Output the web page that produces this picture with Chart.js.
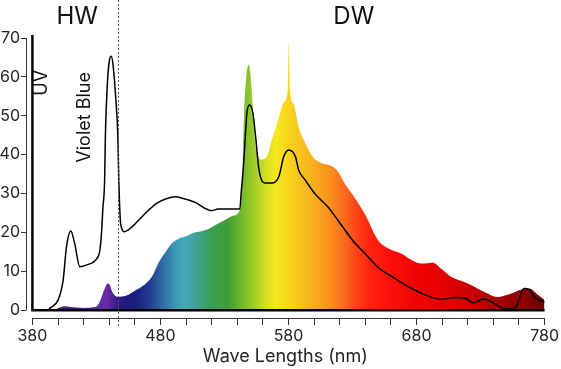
<!DOCTYPE html>
<html>
<head>
<meta charset="utf-8">
<script src="https://cdn.jsdelivr.net/npm/chart.js@4.4.1/dist/chart.umd.min.js"></script>
<style>
  html, body { margin: 0; padding: 0; background: #fff; }
  #wrap { width: 561px; height: 369px; }
</style>
</head>
<body>
<div id="wrap"><canvas id="spectrum" width="561" height="369"></canvas></div>
<script>
'use strict';

// spectrum fill (coloured area)
var fillWavelengths = [380, 396, 400, 405, 410, 420, 428, 431, 433, 435, 437, 439, 440.5, 442, 444, 447, 450, 455, 460, 465, 469, 474, 479, 484, 489, 495, 500, 505, 512, 517, 523, 531, 536, 541, 543, 544, 545, 547, 549, 550.5, 552, 554, 556, 559, 563, 567, 572, 576, 579.5, 580.3, 581, 584, 588, 593, 600, 606, 614, 619, 624, 632, 640, 650, 658, 668, 676, 684, 693, 699, 707, 720, 733, 743, 754, 762, 768, 775, 780];
var fillValues      = [0, 0, 0.5, 1.0, 0.8, 0.6, 0.8, 1.3, 2.5, 4.3, 6.0, 6.9, 6.5, 5.0, 3.9, 3.4, 3.5, 4.0, 5.0, 6.0, 7.0, 9.0, 12.5, 15.0, 17.2, 18.5, 19.0, 19.8, 20.3, 20.8, 21.9, 23.3, 24.2, 25.2, 28, 35, 48, 60, 63.1, 60, 53, 43, 40, 38.7, 39.5, 43.8, 49, 53.3, 57, 69, 57, 53, 47, 43, 39, 37.8, 37, 35.5, 32.5, 28.8, 24.5, 18, 15.9, 14.6, 12.9, 12, 12.2, 10.7, 8.6, 6.9, 4.7, 3.4, 4.3, 5.3, 5.6, 3.9, 2.6];

// black outline curve
var lineWavelengths = [392, 394, 400, 404, 406.6, 410, 413, 417, 422, 431, 432.5, 434, 435, 436.4, 437, 438.5, 440, 441.6, 443, 445, 446.7, 447.5, 449, 452, 458, 464, 470, 477, 484, 492, 500, 508, 514, 520, 525, 533, 542, 543, 545, 547.8, 549.7, 552.2, 554.3, 557, 562, 567, 572.5, 576.3, 580.2, 585.4, 588, 593, 601, 611, 620, 630, 640, 650, 663, 676, 692, 699, 710, 719, 724, 733, 741, 747, 754, 758, 764, 768, 772, 780];
var lineValues      = [0, 0.6, 2.6, 7.7, 16.3, 20.4, 17.2, 11.2, 11.6, 13.6, 15, 20, 26, 33.5, 45, 58, 64, 65.3, 63, 55, 45, 33, 22, 20.2, 21.5, 23.5, 25.5, 27.5, 28.6, 29.2, 28.5, 27.6, 26.3, 25.6, 26, 26, 26, 30, 37.8, 51.5, 52.8, 50.7, 44.7, 36, 32.7, 32.7, 34.4, 39.5, 41.2, 39.5, 36, 33.5, 29.8, 26.5, 22.5, 18, 14.5, 11, 8.2, 5.6, 3.3, 2.8, 3.3, 3.0, 1.9, 2.9, 1.7, 0.6, 0.4, 1.0, 5.6, 5.3, 3.4, 2.1];

var xTickValues  = [380, 400, 420, 440, 460, 480, 500, 520, 540, 560, 580, 600, 620, 640, 660, 680, 700, 720, 740, 760, 780];
var xLabelValues = [380, 480, 580, 680, 780];
var yTickValues  = [0, 10, 20, 30, 40, 50, 60, 70];
var hwDwBorder   = 447;

// colour of the spectrum along the wavelength
var spectrumStops = [
  [380, '#3a1a70'], [420, '#4a2590'], [438, '#6a2aa6'], [448, '#2a1a82'], [460, '#1a1c7c'],
  [472, '#233e90'], [482, '#2f6ca2'], [492, '#3f9ab2'], [500, '#46a8ba'], [510, '#3ea08e'],
  [520, '#38a04e'], [532, '#3c9c38'], [542, '#6ab52c'], [552, '#9acb28'], [562, '#d2de20'],
  [570, '#f5e81e'], [580, '#f8d41c'], [592, '#f8be1e'], [602, '#f9a81e'], [612, '#fa901e'],
  [622, '#fb7020'], [632, '#fd4818'], [642, '#ff2810'], [655, '#ff120c'], [680, '#f20404'],
  [705, '#e00000'], [725, '#c40000'], [745, '#a40404'], [765, '#8a0000'], [780, '#6c0000']
];

function toPoints(xs, ys) {
  return xs.map(function (x, i) { return { x: x, y: ys[i] }; });
}

function spectrumGradient(context) {
  var chart = context.chart;
  if (!chart.chartArea) return '#ccc';
  var sx = chart.scales.x;
  var x0 = sx.getPixelForValue(380), x1 = sx.getPixelForValue(780);
  var g = chart.ctx.createLinearGradient(x0, 0, x1, 0);
  spectrumStops.forEach(function (s) { g.addColorStop((s[0] - 380) / 400, s[1]); });
  return g;
}

var decorations = {
  id: 'decorations',
  afterDatasetsDraw: function (chart) {
    var c = chart.ctx, sx = chart.scales.x, sy = chart.scales.y;
    c.save();
    // thick base lines
    c.strokeStyle = '#000';
    c.lineWidth = 2.5;
    c.beginPath();
    c.moveTo(sx.getPixelForValue(380), sy.getPixelForValue(70.8));
    c.lineTo(sx.getPixelForValue(380), sy.getPixelForValue(0));
    c.lineTo(sx.getPixelForValue(780), sy.getPixelForValue(0));
    c.stroke();
    // offset axis lines
    c.strokeStyle = '#333';
    c.lineWidth = 1;
    c.beginPath();
    c.moveTo(sx.getPixelForValue(380), Math.round(sy.bottom) + 0.5);
    c.lineTo(sx.getPixelForValue(780), Math.round(sy.bottom) + 0.5);
    c.moveTo(Math.round(sx.left) + 0.5, sy.getPixelForValue(0));
    c.lineTo(Math.round(sx.left) + 0.5, sy.getPixelForValue(70));
    c.stroke();
    // HW / DW divider
    var xd = Math.round(sx.getPixelForValue(hwDwBorder)) + 0.5;
    c.strokeStyle = '#555';
    c.setLineDash([2, 2]);
    c.beginPath();
    c.moveTo(xd, 0);
    c.lineTo(xd, sy.bottom + 8);
    c.stroke();
    c.setLineDash([]);
    c.restore();
  },
  afterDraw: function (chart) {
    var c = chart.ctx, sx = chart.scales.x, sy = chart.scales.y;
    c.save();
    c.fillStyle = '#111';
    c.textAlign = 'center';
    c.textBaseline = 'middle';
    c.font = '24px Inter';
    c.fillText('HW', sx.getPixelForValue(415), 17);
    c.fillText('DW', sx.getPixelForValue(631), 17);
    c.font = '18px Inter';
    c.translate(sx.getPixelForValue(387.5), sy.getPixelForValue(58.5));
    c.rotate(-Math.PI / 2);
    c.fillText('UV', 0, 0);
    c.restore();
    c.save();
    c.fillStyle = '#111';
    c.textAlign = 'center';
    c.textBaseline = 'middle';
    c.font = '18px Inter';
    c.translate(sx.getPixelForValue(421), sy.getPixelForValue(49.6));
    c.rotate(-Math.PI / 2);
    c.fillText('Violet Blue', 0, 0);
    c.restore();
  }
};

var ctx = document.getElementById('spectrum').getContext('2d');
var chart = new Chart(ctx, {
  type: 'line',
  data: {
    datasets: [
      {
        label: 'HW',
        data: toPoints(lineWavelengths, lineValues),
        borderColor: '#000',
        borderWidth: 1.5,
        pointRadius: 0,
        fill: false,
        cubicInterpolationMode: 'monotone'
      },
      {
        label: 'DW',
        data: toPoints(fillWavelengths, fillValues),
        borderWidth: 0,
        borderColor: 'rgba(0,0,0,0)',
        backgroundColor: spectrumGradient,
        pointRadius: 0,
        fill: 'origin',
        cubicInterpolationMode: 'monotone'
      }
    ]
  },
  options: {
    responsive: false,
    animation: false,
    events: [],
    layout: { padding: { top: 38, right: 14, left: 0, bottom: 0 } },
    plugins: { legend: { display: false }, tooltip: { enabled: false } },
    scales: {
      x: {
        type: 'linear',
        min: 375,
        max: 780,
        afterBuildTicks: function (axis) {
          axis.ticks = xTickValues.map(function (v) { return { value: v }; });
        },
        afterFit: function (axis) { axis.height = 51; },
        border: { display: false },
        grid: { drawOnChartArea: false, drawTicks: true, tickLength: 7, color: '#333' },
        ticks: {
          autoSkip: false,
          maxRotation: 0,
          padding: 2,
          color: '#222',
          font: { family: 'Inter', size: 16 },
          callback: function (v) { return xLabelValues.indexOf(v) >= 0 ? String(v) : ''; }
        },
        title: {
          display: true,
          text: 'Wave Lengths (nm)',
          color: '#222',
          font: { family: 'Inter', size: 18 },
          padding: { top: 0, bottom: 2 }
        }
      },
      y: {
        min: -2,
        max: 70,
        afterBuildTicks: function (axis) {
          axis.ticks = yTickValues.map(function (v) { return { value: v }; });
        },
        afterFit: function (axis) { axis.width = 26; },
        border: { display: false },
        grid: { drawOnChartArea: false, drawTicks: true, tickLength: 5, color: '#333' },
        ticks: {
          padding: 1,
          color: '#222',
          font: { family: 'Inter', size: 16 }
        }
      }
    }
  },
  plugins: [decorations]
});
</script>
</body>
</html>
